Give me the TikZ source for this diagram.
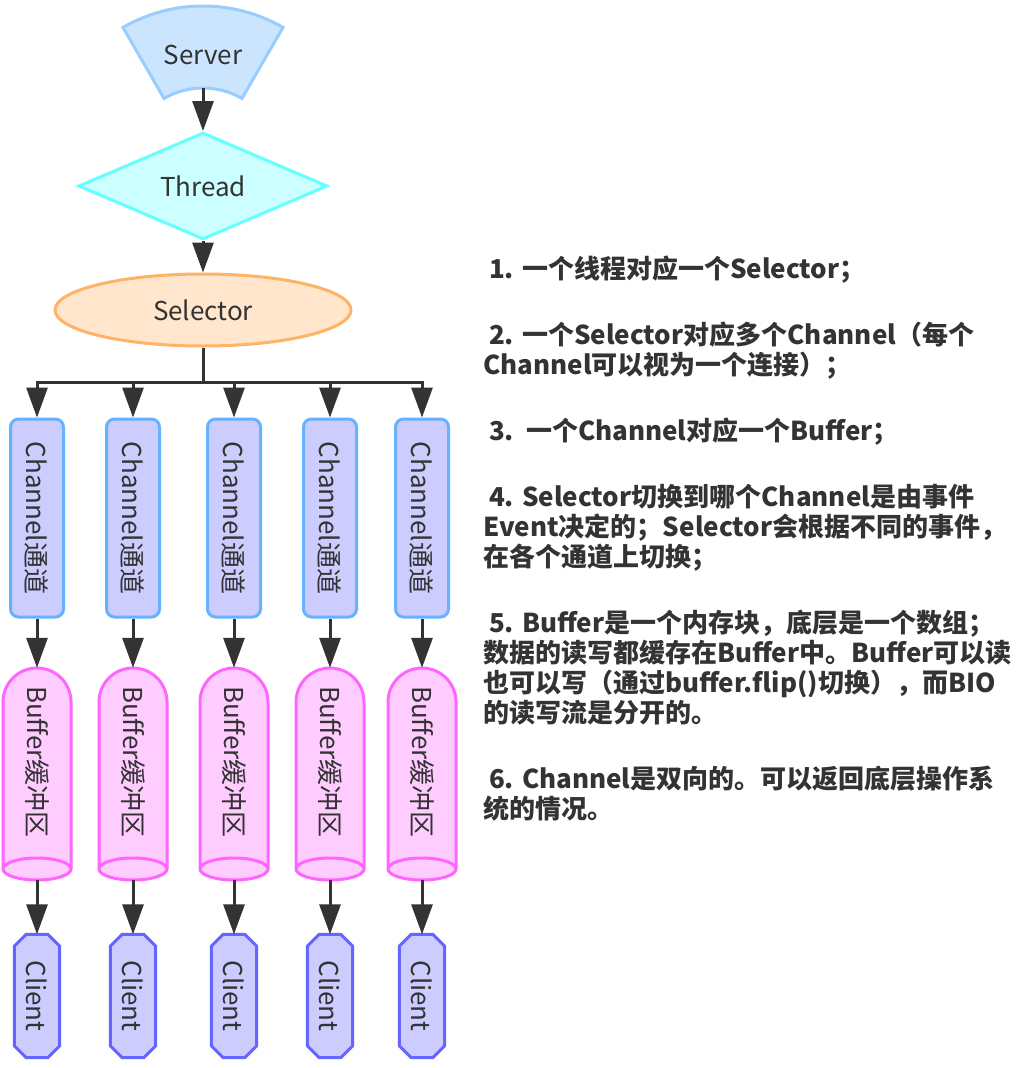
\documentclass[tikz,border=0pt]{standalone}
\usepackage{fontspec}
\setmainfont{Noto Sans CJK SC}
\usepackage{graphicx}
\usetikzlibrary{arrows.meta,shapes.geometric,positioning}

\definecolor{ink}{HTML}{333333}
\definecolor{srvfill}{HTML}{CCE5FF}
\definecolor{srvline}{HTML}{99CCFF}
\definecolor{thrfill}{HTML}{CCFFFF}
\definecolor{thrline}{HTML}{66FFFF}
\definecolor{selfill}{HTML}{FFE6CC}
\definecolor{selline}{HTML}{FFB366}
\definecolor{chfill}{HTML}{CCCCFF}
\definecolor{chline}{HTML}{66B2FF}
\definecolor{buffill}{HTML}{FFCCFF}
\definecolor{bufline}{HTML}{FF66FF}
\definecolor{clifill}{HTML}{CCCCFF}
\definecolor{cliline}{HTML}{6666FF}

\begin{document}
\begin{tikzpicture}
[
   x=1pt, y=-1pt,
   every node/.style={text=ink, inner sep=0pt, font=\fontsize{26}{30}\selectfont},
   boxline/.style={line width=3pt},
   threadbox/.style={diamond, boxline, draw=thrline, fill=thrfill,
     minimum width=249pt, minimum height=82pt},
   selectorbox/.style={ellipse, boxline, draw=selline, fill=selfill,
     minimum width=296pt, minimum height=72pt},
   channelbox/.style={rectangle, rounded corners=8pt, boxline, draw=chline,
     fill=chfill, minimum width=53pt, minimum height=198pt},
   bufferbox/.style={rectangle, minimum width=68pt, minimum height=212pt},
   clientbox/.style={rectangle, minimum width=45pt, minimum height=123pt},
   link/.style={draw=ink, line width=3pt, -{Triangle[length=30pt,width=21pt]}},
   note/.style={font=\fontsize{26}{30}\selectfont\bfseries, align=left,
     anchor=north west}
]
\path[use as bounding box, fill=white] (0,0) rectangle (1023,1068);

% server, thread, selector
\draw[boxline, draw=srvline, fill=srvfill]
  ([shift={(-120:160)}]203,166) arc[start angle=-120, end angle=-60, radius=160]
  -- ([shift={(-60:78)}]203,166) arc[start angle=-60, end angle=-120, radius=78]
  -- cycle;
\node[minimum width=120pt, minimum height=66pt] (srv) at (203,55) {Server};
\node[threadbox] (thr) at (203,186) {Thread};
\node[selectorbox] (sel) at (203,310) {Selector};

\draw[link] (srv) -- (thr);
\draw[link] (thr) -- (sel);
\coordinate (fork) at (203,382);
\draw[ink, line width=3pt] (sel) -- (fork);

% one column per channel
\foreach \i/\x in {1/37,2/133,3/234,4/330,5/422} {
  \node[channelbox] (ch\i) at (\x,518) {\rotatebox{-90}{Channel通道}};
  \node[bufferbox] (bufbox\i) at (\x,774) {};
  \draw[boxline, draw=bufline, fill=buffill]
    (\x-34,869) -- (\x-34,702) arc[start angle=180, end angle=360, radius=34]
    -- (\x+34,869) arc[start angle=0, end angle=180, x radius=34, y radius=11]
    -- cycle;
  \draw[boxline, draw=bufline]
    (\x+34,869) arc[start angle=0, end angle=-180, x radius=34, y radius=11];
  \node (buf\i) at (\x,762) {\rotatebox{-90}{Buffer缓冲区}};
  \node[clientbox] (clibox\i) at (\x,996) {};
  \draw[boxline, draw=cliline, fill=clifill]
    ([xshift=12pt]clibox\i.north west) -- ([xshift=-12pt]clibox\i.north east)
    -- ([yshift=-12pt]clibox\i.north east) -- ([yshift=12pt]clibox\i.south east)
    -- ([xshift=-12pt]clibox\i.south east) -- ([xshift=12pt]clibox\i.south west)
    -- ([yshift=12pt]clibox\i.south west) -- ([yshift=-12pt]clibox\i.north west)
    -- cycle;
  \node (cli\i) at (clibox\i) {\rotatebox{-90}{Client}};
  \draw[link] (fork) -| (ch\i);
  \draw[link] (ch\i) -- (bufbox\i);
  \draw[link] (bufbox\i) -- (clibox\i);
}

% notes
\node[note] (notes) at (483,256) {%
\ 1. 一个线程对应一个Selector；\\[36pt]
\ 2. 一个Selector对应多个Channel（每个\\
Channel可以视为一个连接）；\\[36pt]
\ 3.\ \ 一个Channel对应一个Buffer；\\[36pt]
\ 4. Selector切换到哪个Channel是由事件\\
Event决定的；Selector会根据不同的事件，\\
在各个通道上切换；\\[36pt]
\ 5. Buffer是一个内存块，底层是一个数组；\\
数据的读写都缓存在Buffer中。Buffer可以读\\
也可以写（通过buffer.flip()切换），而BIO\\
的读写流是分开的。\\[36pt]
\ 6. Channel是双向的。可以返回底层操作系\\
统的情况。};
\end{tikzpicture}
\end{document}
